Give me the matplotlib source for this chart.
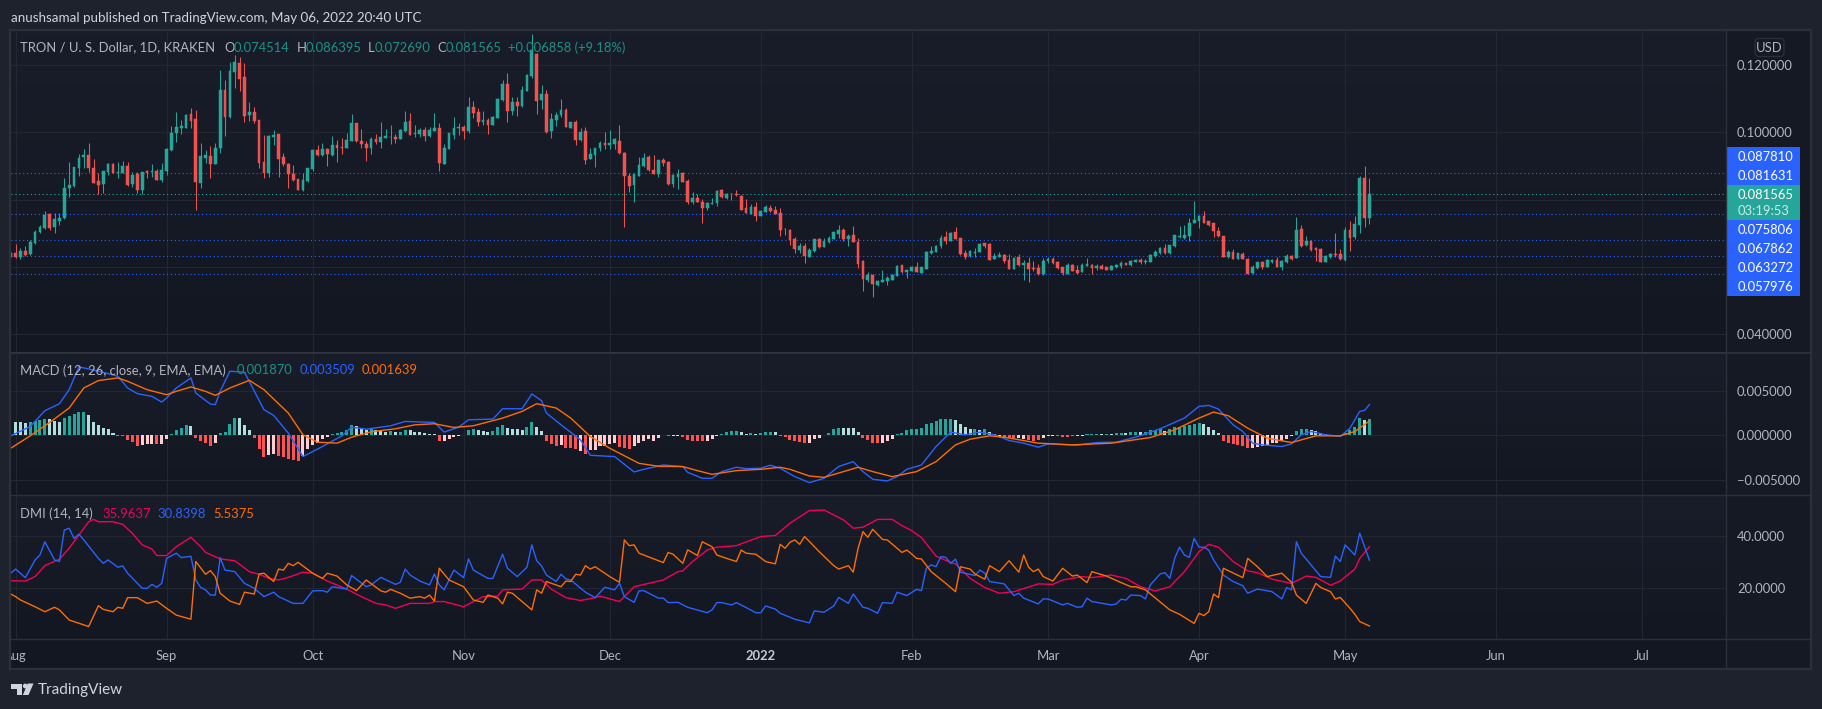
"""
Dark TradingView style chart of TRX/USD: candles, MACD pane and DMI pane.
All panes share the same daily x axis (days since 1 Aug 2021).
"""

import matplotlib
matplotlib.use("Agg")
import matplotlib.pyplot as plt
import numpy as np
from matplotlib.colors import LinearSegmentedColormap
from matplotlib.lines import Line2D
from matplotlib.patches import Circle, FancyBboxPatch, Polygon, Rectangle
from matplotlib.transforms import Affine2D

W, H = 1822, 709

# candles, prices in units of 0.0001 USD, first candle is day -1
first_day = -1
opens = [632,
    640,630,647,637,670,702,716,757,717,737, 745,834,841,895,927,931,893,854,846,882,
    906,878,880,900,846,876,828,885,882,884, 858,886,947,997,1014,1014,1055,1039,850,925,
    930,906,953,1126,1045,1178,1207,1164,1052,1060, 1036,911,878,987,994,926,906,876,860,828,
    855,890,947,932,951,932,962,955,953,975, 1027,973,964,953,979,970,984,985,986,981,
    1004,1034,995,995,1007,989,1005,1013,906,951, 992,1012,1016,1003,1075,1061,1032,1037,1022,1043,
    1096,1144,1063,1090,1078,1124,1168,1233,1096,1114, 1004,1037,1052,1067,1014,1031,977,1004,921,932,
    952,967,962,964,974,938,870,843,871,900, 927,888,876,918,913,845,867,878,855,793,
    805,793,775,788,790,828,805,817,817,811, 775,758,777,752,764,776,769,760,713,710,
    684,650,662,630,647,683,659,674,683,698, 709,683,695,674,617,562,575,546,555,558,
    562,572,605,585,588,599,582,593,640,644, 661,689,678,702,685,640,632,642,644,670,
    669,623,630,634,620,593,629,605,611,596, 596,578,616,624,614,599,579,606,590,584,
    602,605,597,602,598,590,598,602,611,604, 615,620,615,615,632,640,656,640,661,688,
    685,692,730,735,751,735,730,706,691,628, 645,624,638,624,580,596,613,599,614,620,
    598,613,632,627,712,664,677,657,653,615, 628,638,637,620,709,687,724,864,745]
closes = [640,
    628,647,635,675,702,718,754,715,742,745, 833,842,896,925,931,894,850,844,884,906,
    880,882,900,843,872,828,881,880,884,858, 888,950,997,1016,1019,1052,1035,853,930,932,
    906,953,1126,1047,1183,1209,1160,1049,1060,1035, 910,878,989,992,922,906,876,858,828,857,
    893,947,932,951,936,962,953,953,977,1027, 973,965,953,979,970,986,989,986,980,1007,
    1032,992,997,1007,989,1007,1013,908,953,997, 1013,1016,1005,1075,1058,1031,1037,1022,1047,1099,
    1144,1063,1090,1078,1126,1171,1245,1093,1114,1000, 1040,1052,1067,1016,1031,977,1001,918,936,952,
    967,962,968,979,937,871,840,877,903,924, 887,876,918,908,845,872,876,852,793,805,
    793,775,790,790,825,808,817,816,812,769, 760,778,751,765,778,765,757,709,711,679,
    653,662,632,651,682,659,678,685,702,709, 682,692,674,608,563,575,548,558,560,565,
    575,602,583,590,599,585,598,644,647,663, 686,677,701,684,638,630,648,644,668,662,
    620,632,635,618,593,626,605,611,593,594, 578,616,624,610,595,581,605,587,581,605,
    608,596,601,594,590,602,606,610,605,617, 621,614,618,635,645,656,640,664,693,692,
    695,730,739,751,730,724,706,692,630,644, 624,640,624,578,599,613,600,620,620,600,
    616,633,624,709,661,678,651,649,615,632, 638,634,622,709,685,726,864,746,816]
highs = [645,
    668,655,662,680,709,723,766,759,759,759, 863,913,898,935,949,967,922,878,886,908,
    908,911,914,911,882,883,883,888,906,890, 908,952,1020,1060,1037,1055,1072,1066,967,947,
    960,967,1184,1156,1210,1230,1223,1205,1091,1074, 1037,992,992,1007,995,937,908,903,861,878,
    895,949,962,967,953,989,977,983,997,1054, 1029,1009,975,985,995,1032,1009,1021,995,1010,
    1064,1057,1022,1012,1017,1015,1057,1027,965,999, 1047,1027,1021,1104,1092,1073,1063,1044,1049,1101,
    1156,1176,1104,1106,1138,1174,1292,1235,1141,1126, 1057,1059,1100,1073,1032,1037,1012,1017,953,954,
    973,1001,1007,984,1022,940,878,879,926,938, 932,933,918,923,915,876,890,882,860,822,
    817,801,792,804,828,831,819,819,829,812, 802,787,792,769,784,783,780,774,715,712,
    687,672,670,655,683,686,685,691,703,724, 716,698,722,685,620,583,577,562,590,572,
    577,604,606,594,602,614,600,646,662,666, 695,705,703,719,686,650,650,656,670,672,
    670,640,644,638,638,630,638,620,628,617, 608,626,630,630,616,600,610,608,604,610,
    625,607,608,607,602,604,608,617,612,620, 623,626,623,638,651,658,668,666,695,722,
    725,744,795,753,765,737,731,717,692,650, 653,642,644,626,605,615,616,622,624,628,
    620,637,634,748,724,691,679,659,655,636, 642,700,653,717,735,751,870,900,864]
lows = [628,
    625,622,632,635,667,699,713,709,699,724, 743,808,838,871,893,883,848,816,818,873,
    878,863,878,840,838,820,816,865,867,858, 852,873,945,972,995,1012,1014,769,835,908,
    865,906,937,989,1042,1131,1124,1032,1035,1027, 893,865,868,962,868,900,833,856,828,825,
    853,886,928,930,900,930,912,936,952,973, 971,952,916,936,964,952,982,965,969,979,
    1001,992,985,987,974,985,1003,885,906,949, 979,992,979,999,1044,1020,1021,995,1021,1042,
    1094,1032,1052,1049,1076,1122,1161,1055,1069,997, 982,1019,1047,1015,1012,962,975,906,921,897,
    945,951,950,950,935,719,823,793,870,898, 884,876,868,901,843,838,832,851,787,787,
    793,731,769,787,781,806,802,799,811,769, 759,757,736,751,763,763,756,692,695,664,
    642,642,612,628,645,657,658,672,682,685, 678,662,673,596,528,554,511,542,554,545,
    560,571,582,567,587,583,581,592,638,643, 656,669,677,683,636,624,630,630,643,657,
    619,622,628,612,592,592,603,562,555,586, 576,576,612,608,594,576,578,586,579,583,
    601,578,590,593,589,589,596,597,604,602, 613,609,608,614,630,639,639,639,659,686,
    683,678,729,715,729,722,688,689,629,626, 623,622,623,577,579,593,593,598,612,599,
    590,612,620,626,660,663,647,617,614,614, 627,630,620,618,648,683,701,719,727]

# MACD histogram in units of 0.00001, first bar is day 0
# kinds: t rising above zero, p falling above, r falling below, s rising below
macd_hist = [
    148,148,144,148,159,171,190,182,163,155, 201,216,246,265,269,227,155,114,80,68,
    30,-8,-11,-53,-76,-114,-106,-99,-99,-102, -91,-45,19,57,83,114,106,-27,-57,-83,
    -114,-83,30,42,133,201,197,114,57,-30, -152,-239,-220,-208,-227,-246,-265,-273,-284,-227,
    -152,-106,-83,-38,-19,19,30,45,57,114, 102,83,57,68,57,53,45,49,42,45,
    64,57,45,34,27,19,15,-68,-61,-45, -19,-8,8,61,68,61,49,42,53,91,
    114,87,76,68,57,95,152,91,49,-64, -95,-117,-106,-140,-140,-148,-171,-208,-159,-159,
    -114,-114,-95,-87,-125,-144,-152,-121,-83,-57, -45,-57,-23,11,-8,-11,-8,-15,-53,-57,
    -61,-64,-61,-42,-11,19,42,53,53,38, 15,30,15,23,38,45,45,-8,-19,-53,
    -68,-72,-80,-80,-38,-27,8,30,68,87, 87,87,87,42,-34,-53,-80,-80,-80,-64,
    -45,15,30,57,68,72,80,125,144,159, 182,190,190,178,133,99,76,72,64,68,
    34,19,-4,-15,-23,-23,-30,-38,-49,-57, -53,-23,-11,-8,-11,-15,-15,-11,-11,-4,
    19,19,15,15,15,15,30,30,27,42, 38,38,45,57,64,72,49,68,95,99,
    102,121,129,140,125,95,64,30,-57,-83, -95,-106,-121,-144,-144,-125,-114,-106,-83,-83,
    -64,-45,-11,53,68,76,61,49,30,15, 11,4,4,30,61,95,201,178,187]
hist_kinds = (
    "pppttttppp" "tttttppppp" "prrrrrsssr" "ssttttprrr" "rsttttpppr" "rrssrrrrrs"
    "sssssttttt" "ppptppptpt" "tpppppprss" "sstttppptt" "tppppttppr" "rrsrrrsrss"
    "ssssrrrsss" "ssstrssrrr" "rrsssttttp" "ptptttprrr" "rrrssstttt" "pppprrrrss"
    "sttttttttt" "tttpppptpt" "ppsrrrssrr" "rsssrrrrss" "tttptpttpt" "tpttttpttt"
    "ttttpppprr" "rrrrssssss" "ssstttpppp" "pppttttpt")

macd_days = [-1,3,6,9,11,13,15,19,21,23,25,28,30,31,33,36,37,40,41,42,44,47,51,53,56,59,63,67,69,72,
    77,80,86,88,91,93,98,100,104,106,108,109,112,116,118,123,127,129,133,137,138,141,143,145,148,150,
    153,155,157,160,163,166,169,172,174,176,179,181,183,186,189,192,195,198,201,204,207,210,212,218,
    222,226,230,235,240,243,245,247,250,252,254,256,260,262,264,266,269,272,274,276,277,278]
macd_line = [-4,102,280,360,519,777,754,701,671,538,474,443,379,424,538,652,481,356,349,500,728,716,292,227,27,-239,-125,-4,95,72,
    110,159,148,38,95,178,186,303,303,470,394,254,121,-49,-224,-239,-413,-383,-334,-352,-417,-485,-485,-409,-360,-375,
    -371,-337,-371,-466,-534,-485,-352,-296,-409,-496,-515,-466,-383,-334,-125,38,8,38,8,-57,-87,-133,-95,-110,
    -80,-76,-19,76,197,330,341,299,121,45,-87,-106,-125,-95,8,45,8,-11,83,273,284,351]
signal_days = [-1,3,7,11,14,17,21,23,27,31,33,36,39,41,44,48,51,56,59,62,66,69,73,78,82,86,90,94,100,104,
    107,111,114,118,122,124,128,132,137,140,143,148,153,157,159,163,166,170,173,176,180,185,189,193,196,
    200,203,210,217,225,233,238,243,246,249,253,257,262,267,272,275,278]
signal_line = [-144,-4,148,311,538,622,652,614,519,462,500,550,500,455,538,625,519,254,8,-76,-87,-19,42,76,121,133,91,110,197,273,
    360,311,197,-11,-144,-201,-315,-349,-352,-398,-440,-398,-383,-360,-383,-459,-474,-409,-360,-409,-466,-409,-296,-106,-42,
    -4,-19,-87,-106,-87,-23,64,197,265,224,83,-30,-80,-4,-4,45,164]

plus_di_days = [-1,0,2,4,5,6,8,9,10,11,12,13,14,17,18,19,21,22,23,26,27,28,29,30,31,33,34,36,37,38,39,40,41,42,43,45,47,49,
    51,53,54,57,59,61,63,64,65,68,69,72,73,75,78,79,80,81,83,85,86,87,88,90,92,93,94,97,98,100,101,103,105,106,107,108,109,
    111,112,113,114,117,119,121,123,124,125,127,128,129,132,133,134,136,138,142,143,144,145,147,148,150,152,153,154,156,157,
    160,163,164,166,168,169,171,172,174,175,177,178,180,181,183,185,186,187,188,189,190,191,192,193,194,197,198,199,200,203,
    205,206,207,210,211,212,215,216,218,219,220,221,225,226,227,228,229,231,232,233,235,236,237,238,239,240,241,242,243,244,
    245,246,248,250,252,253,255,258,260,261,262,263,264,268,270,271,272,273,275,276,278]
plus_di = [25.8,27.4,24.1,30.9,32.8,37.9,30.9,30.3,42.4,43.1,39.2,40.8,38.6,31.5,29.6,30.9,28.1,28.6,25.8,20.0,20.0,21.5,20.4,21.9,31.5,33.5,31.8,32.3,23.2,20.3,19.4,17.4,17.4,31.8,27.0,26.4,21.9,20.0,
    16.8,18.5,16.8,14.2,14.2,19.0,19.1,18.5,20.6,19.7,24.9,20.6,21.3,24.2,21.5,22.3,27.4,25.1,22.8,21.3,25.5,21.3,19.4,27.0,24.1,31.3,27.0,23.8,23.8,33.1,27.7,24.5,28.1,36.7,30.6,28.6,25.1,
    22.6,25.4,23.6,23.2,18.5,16.4,20.4,19.4,21.9,16.8,14.6,19.0,19.1,16.2,16.2,14.5,14.6,12.7,10.6,11.7,14.5,14.5,13.6,14.5,12.6,10.6,10.6,13.2,12.0,10.4,
    8.1,6.7,11.3,10.8,13.2,16.5,14.2,17.8,12.7,12.3,10.4,14.5,14.2,18.5,17.2,19.6,19.1,27.7,29.0,28.3,32.2,31.9,29.6,31.2,26.2,24.9,27.0,25.8,22.6,21.7,
    17.2,18.1,16.2,14.0,15.9,15.9,13.6,14.2,12.7,12.9,16.2,14.9,13.6,14.0,15.8,15.5,17.4,17.2,15.9,21.3,25.5,26.0,23.8,31.5,35.8,32.8,31.9,39.2,35.8,35.8,
    34.7,30.9,25.1,22.6,21.0,18.1,19.7,18.7,15.9,20.3,19.4,37.9,33.5,24.5,24.2,32.4,30.3,36.7,32.8,41.2,30.8]
minus_di_days = [-1,0,1,4,6,8,9,11,15,17,18,20,21,22,23,25,27,29,31,33,36,37,39,40,41,42,44,46,47,49,50,51,53,54,55,56,57,58,
    61,63,64,66,68,70,72,75,76,77,79,81,83,84,85,86,87,89,92,94,96,97,99,100,101,102,106,107,108,109,112,113,114,115,116,117,118,
    119,122,124,125,126,127,128,133,134,135,137,138,140,141,143,144,146,148,149,150,152,154,156,157,158,159,160,161,162,163,165,
    168,169,171,172,173,174,175,176,178,179,182,183,184,185,186,188,191,193,194,196,197,199,200,202,204,206,207,208,209,210,211,
    213,215,217,218,220,221,224,227,229,230,232,237,239,242,243,244,245,246,247,248,252,253,255,257,260,262,263,265,267,268,270,
    271,272,274,275,276,278]
minus_di = [17.8,16.8,15.5,12.9,11.0,12.7,11.7,7.8,5.3,13.3,11.9,11.0,12.7,12.3,16.4,16.4,14.2,15.1,12.3,9.7,8.1,30.3,25.4,26.8,24.5,18.1,15.1,13.8,18.5,17.8,25.5,25.8,22.6,27.4,27.0,29.6,28.7,30.0,
    25.8,23.8,25.8,24.7,21.3,19.1,23.2,19.0,18.5,19.6,18.1,16.2,16.8,16.2,17.4,15.1,27.7,23.2,20.6,15.5,14.6,17.4,16.2,14.0,18.5,18.1,11.7,19.4,18.1,22.6,20.6,22.8,22.6,25.4,25.1,28.7,27.4,
    28.3,24.5,22.3,38.6,36.4,36.7,33.5,29.9,33.8,33.1,29.6,34.8,32.6,37.9,36.0,32.8,31.5,30.3,34.7,33.5,33.1,30.3,29.4,36.9,35.4,37.7,38.6,36.9,39.9,38.0,34.1,
    28.7,27.4,28.7,26.2,35.4,41.8,39.6,42.7,38.8,38.6,33.8,34.7,33.2,31.5,31.3,26.4,21.9,18.7,28.3,27.4,25.5,23.5,28.7,26.4,30.6,26.2,32.8,28.1,26.4,27.4,24.5,
    22.8,27.7,24.7,25.1,22.2,26.4,24.7,22.2,20.6,20.6,19.4,11.7,10.0,6.5,10.4,9.5,11.0,17.8,16.4,27.7,24.1,31.5,28.3,24.5,25.8,22.3,17.4,14.2,21.9,20.3,18.7,
    15.9,16.5,12.3,10.0,7.2,5.5]
adx_days = [-1,2,4,6,9,11,13,15,16,17,20,22,24,26,28,29,31,33,36,38,39,42,45,48,50,52,54,56,59,61,64,68,71,74,76,78,81,85,86,88,92,94,96,99,100,104,106,108,
    110,113,116,119,120,124,127,133,136,137,139,142,144,148,153,156,159,163,166,170,172,174,177,180,182,184,186,189,192,193,196,199,202,205,210,213,215,219,221,
    225,228,231,234,237,240,243,245,247,250,253,255,258,262,265,267,270,272,275,276,278]
adx = [22.9,22.8,24.5,28.7,31.2,35.4,40.5,45.6,46.5,45.6,45.6,44.6,41.1,36.7,35.1,32.6,32.6,36.0,39.6,36.0,33.8,31.3,30.6,26.4,25.4,23.8,23.2,24.2,26.2,25.8,22.8,19.7,16.8,14.2,13.6,12.3,14.2,14.2,14.9,14.9,12.9,14.9,16.8,17.0,19.4,19.7,23.2,23.2,
    19.7,16.4,15.3,16.4,17.0,14.9,20.6,23.2,26.4,26.7,30.3,34.7,35.8,36.4,39.9,40.3,45.0,49.9,50.1,46.3,43.1,43.5,46.5,46.5,44.1,42.2,39.5,32.4,29.9,29.4,23.8,20.3,18.1,18.7,21.7,21.5,23.2,24.5,24.1,
    25.1,23.8,20.6,19.0,20.6,26.4,34.1,36.9,35.8,30.3,26.7,26.0,23.5,21.9,24.7,24.2,21.2,22.8,27.4,31.5,36.0]

# horizontal price levels and month ticks (days since 1 Aug 2021)
blue_levels = [0.087810, 0.075806, 0.067862, 0.063272, 0.057976]
last_price = 0.081565
month_days = [0, 31, 61, 92, 122, 153, 184, 212, 243, 273, 304, 334]
month_labels = ["Aug", "Sep", "Oct", "Nov", "Dec", "2022", "Feb", "Mar", "Apr", "May", "Jun", "Jul"]
price_ticks = [0.04, 0.06, 0.08, 0.10, 0.12]
price_tick_labels = ["0.040000", "", "", "0.100000", "0.120000"]  # 0.06 and 0.08 sit behind the price tags
macd_ticks = [-0.005, 0.0, 0.005]
macd_tick_labels = ["\u22120.005000", "0.000000", "0.005000"]
dmi_ticks = [20, 40]
dmi_tick_labels = ["20.0000", "40.0000"]

BG = "#1E222D"
GRID = "#232733"
BORDER = "#2C303B"
TXT = "#B2B5BE"
TEAL = "#26A69A"
RED = "#EF5350"
BLUE = "#2962FF"
ORANGE = "#FF6D00"
PINK = "#F50057"
FONT = "Lato"
FS = 9.4

# pixels from top-left, so the frame can be placed like the screenshot
px = Affine2D().scale(1, -1).translate(0, H)
pane_cmap = LinearSegmentedColormap.from_list("pane", ["#191D29", "#131722"])


def add_pane(fig, top, bottom, ylim, yticks, ylabels):
    left, right = 11, 1726
    ax = fig.add_axes([left / W, 1 - bottom / H, (right - left) / W, (bottom - top) / H])
    ax.imshow(np.linspace(0, 1, 64)[:, None], cmap=pane_cmap, aspect="auto",
              extent=[0, 1, 0, 1], transform=ax.transAxes, zorder=-10)
    ax.set_xlim((left - 15.6) / 4.87, (right - 15.6) / 4.87)
    ax.set_ylim(*ylim)
    ax.set_xticks(month_days)
    ax.set_xticklabels([])
    ax.set_yticks(yticks)
    ax.set_yticklabels(ylabels)
    ax.yaxis.tick_right()
    ax.tick_params(length=0, labelcolor=TXT, labelsize=FS, pad=8)
    ax.grid(True, color=GRID, lw=0.75)
    ax.set_axisbelow(True)
    for s in ax.spines.values():
        s.set_visible(False)
    for lab in ax.get_yticklabels():
        lab.set_fontfamily(FONT)
    return ax


def draw_candles(ax):
    days = np.arange(first_day, first_day + len(opens))
    o, c = np.array(opens) * 1e-4, np.array(closes) * 1e-4
    h, l = np.array(highs) * 1e-4, np.array(lows) * 1e-4
    colors = [TEAL if b >= a else RED for a, b in zip(o, c)]
    ax.vlines(days, l, h, colors=colors, lw=0.75, zorder=3)
    ax.bar(days, np.abs(c - o), bottom=np.minimum(o, c), width=0.56,
           color=colors, edgecolor=colors, linewidth=0.35, zorder=4)
    for lev in blue_levels:
        ax.axhline(lev, color=BLUE, lw=0.8, ls=(0, (1, 2.5)), zorder=2)
    ax.axhline(last_price, color=TEAL, lw=0.8, ls=(0, (1, 2.5)), zorder=2)


def draw_macd(ax):
    kind_colors = {"t": TEAL, "p": "#B2DFDB", "r": "#FF5252", "s": "#FFCDD2"}
    days = np.arange(len(macd_hist))
    ax.bar(days, np.array(macd_hist) * 1e-5, width=0.62, linewidth=0,
           color=[kind_colors[k] for k in hist_kinds], zorder=3)
    ax.plot(macd_days, np.array(macd_line) * 1e-5, color=BLUE, lw=1.0, zorder=4)
    ax.plot(signal_days, np.array(signal_line) * 1e-5, color=ORANGE, lw=1.0, zorder=5)


def draw_dmi(ax):
    ax.plot(adx_days, adx, color=PINK, lw=1.0, zorder=3)
    ax.plot(plus_di_days, plus_di, color=BLUE, lw=1.0, zorder=4)
    ax.plot(minus_di_days, minus_di, color=ORANGE, lw=1.0, zorder=5)


def label(fig, x, y, s, color=TXT, size=FS, **kw):
    fig.text(x, y, s, transform=px, color=color, fontsize=size, va="center",
             fontfamily=FONT, zorder=8, **kw)


def draw_frame(fig):
    # right scale strip sits under the tick labels
    fig.add_artist(Rectangle((1726, 30), 85, 639, transform=px, fc="#151924", ec="none", zorder=-1))
    for x0, y0, x1, y1, lw in [(1726, 30, 1726, 669, 1.0), (10, 352.5, 1811, 352.5, 1.4),
                               (10, 495, 1811, 495, 1.0), (10, 639, 1811, 639, 1.0),
                               (10, 30, 1811, 30, 1.6), (10, 669, 1811, 669, 1.6),
                               (10, 30, 10, 669, 1.6), (1811, 30, 1811, 669, 1.6)]:
        fig.add_artist(Line2D([x0, x1], [y0, y1], transform=px, color=BORDER, lw=lw, zorder=6))


def draw_price_labels(fig):
    fig.add_artist(Rectangle((1726, 147), 74, 38, transform=px, fc=BLUE, ec="none", zorder=1))
    fig.add_artist(Rectangle((1726, 220), 74, 76, transform=px, fc=BLUE, ec="none", zorder=1))
    fig.add_artist(Rectangle((1726, 185), 74, 35, transform=px, fc=TEAL, ec="none", zorder=1))
    for y, s in [(157, "0.087810"), (176.5, "0.081631"), (195, "0.081565"),
                 (230, "0.075806"), (249, "0.067862"), (268, "0.063272"), (287, "0.057976")]:
        label(fig, 1738, y, s, color="white")
    label(fig, 1738, 211, "03:19:53", color="#C9ECE8")
    fig.add_artist(FancyBboxPatch((1755, 38.5), 29, 18, boxstyle="round,pad=0,rounding_size=4",
                                  transform=px, fc="none", ec=BORDER, lw=0.9, zorder=2))
    label(fig, 1769.5, 47.5, "USD", ha="center")


def draw_legends(fig):
    label(fig, 11, 17.5, "anushsamal published on TradingView.com, May 06, 2022 20:40 UTC",
          color="#D1D4DC", size=9.65)
    label(fig, 20, 47.5, "TRON / U. S. Dollar, 1D, KRAKEN")
    dim = "#1F8F85"
    for x, s, col in [(224.5, "O", TXT), (233.5, "0.074514", dim), (296.5, "H", TXT), (305.5, "0.086395", dim),
                      (367.5, "L", TXT), (375, "0.072690", dim), (437, "C", TXT), (445.5, "0.081565", dim),
                      (508, "+0.006858 (+9.18%)", dim)]:
        label(fig, x, 47.5, s, color=col)
    label(fig, 19.5, 370.5, "MACD (12, 26, close, 9, EMA, EMA)")
    label(fig, 236.5, 370.5, "0.001870", color=dim)
    label(fig, 299.5, 370.5, "0.003509", color=BLUE)
    label(fig, 362, 370.5, "0.001639", color=ORANGE)
    label(fig, 19.5, 513.5, "DMI (14, 14)")
    label(fig, 102, 513.5, "35.9637", color=PINK)
    label(fig, 157, 513.5, "30.8398", color=BLUE)
    label(fig, 213, 513.5, "5.5375", color=ORANGE)


def draw_logo(fig):
    logo = "#D1D4DC"
    fig.add_artist(Polygon([(11, 683.5), (22, 683.5), (22, 695), (16.5, 695), (16.5, 689), (11, 689)],
                           transform=px, fc=logo, ec="none", zorder=7))
    fig.add_artist(Circle((25.3, 686), 2.4, transform=px, fc=logo, ec="none", zorder=7))
    fig.add_artist(Polygon([(33.5, 683.5), (28.5, 695), (22.8, 695), (27.8, 683.5)],
                           transform=px, fc=logo, ec="none", zorder=7))
    label(fig, 38, 690, "TradingView", color="#D1D4DC", size=11)


def main():
    fig = plt.figure(figsize=(W / 100, H / 100), dpi=100, facecolor=BG)

    price_ax = add_pane(fig, 30, 352.5, (0.03448, 0.13044), price_ticks, price_tick_labels)
    macd_ax = add_pane(fig, 352.5, 495, (-0.00674, 0.0094), macd_ticks, macd_tick_labels)
    dmi_ax = add_pane(fig, 495, 639, (0.5, 55.88), dmi_ticks, dmi_tick_labels)
    draw_candles(price_ax)
    draw_macd(macd_ax)
    draw_dmi(dmi_ax)

    # time scale strip, texts clip at its left edge like the "Aug" label
    time_ax = fig.add_axes([11 / W, 1 - 669 / H, 1715 / W, 30 / H], facecolor="#131722")
    time_ax.set_xlim(dmi_ax.get_xlim())
    time_ax.set_ylim(0, 1)
    time_ax.axis("off")
    time_ax.add_patch(Rectangle((0, 0), 1, 1, transform=time_ax.transAxes, fc="#131722", ec="none"))
    for d, s in zip(month_days, month_labels):
        bold = s == "2022"
        time_ax.text(d, 0.45, s, ha="center", va="center", clip_on=True, fontfamily=FONT,
                     fontsize=FS, color="#C8CAD2" if bold else TXT,
                     fontweight="bold" if bold else "normal")
    fig.add_artist(Rectangle((1726, 639), 85, 30, transform=px, fc="#131722", ec="none", zorder=-1))

    draw_frame(fig)
    draw_price_labels(fig)
    draw_legends(fig)
    draw_logo(fig)

    fig.savefig("out.png", dpi=100, facecolor=BG)
    plt.close(fig)


if __name__ == "__main__":
    main()
